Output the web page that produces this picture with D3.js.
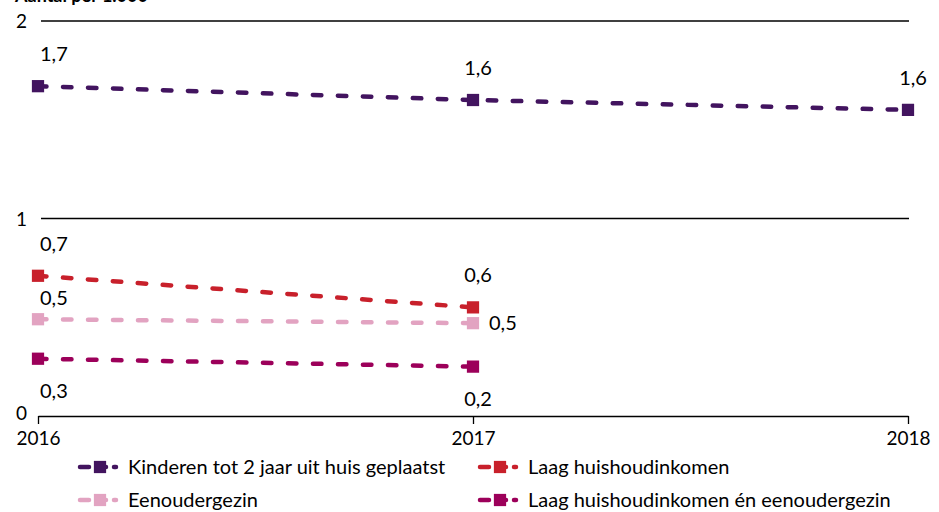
<!DOCTYPE html>
<html>
<head>
<meta charset="utf-8">
<script src="https://cdn.jsdelivr.net/npm/d3@7"></script>
<style>
  body { margin: 0; background: #fff; }
  svg { display: block; font-family: Lato, "Open Sans", sans-serif; }
</style>
</head>
<body>
<svg id="chart" width="939" height="512"></svg>
<script>
var years = [2016, 2017, 2018];
var yTicks = [0, 1, 2];

var seriesNames = [
  "Kinderen tot 2 jaar uit huis geplaatst",
  "Laag huishoudinkomen",
  "Eenoudergezin",
  "Laag huishoudinkomen én eenoudergezin"
];
var kinderen = [1.67, 1.60, 1.55];
var laagInkomen = [0.71, 0.55, null];
var eenouder = [0.49, 0.47, null];
var laagEnEenouder = [0.29, 0.25, null];

var kinderenLabels = ["1,7", "1,6", "1,6"];
var laagInkomenLabels = ["0,7", "0,6", null];
var eenouderLabels = ["0,5", "0,5", null];
var laagEnEenouderLabels = ["0,3", "0,2", null];

var colors = ["#42145f", "#c8202b", "#e2a3c1", "#9c005a"];
// where each point's label sits
var placement = [
  ["above", "above", "above"],
  ["above", "above", null],
  ["near", "right", null],
  ["below", "below", null]
];

var values = [kinderen, laagInkomen, eenouder, laagEnEenouder];
var labels = [kinderenLabels, laagInkomenLabels, eenouderLabels, laagEnEenouderLabels];

var svg = d3.select("#chart");

var x = d3.scaleLinear().domain([2016, 2018]).range([38, 908]);
var y = d3.scaleLinear().domain([0, 2]).range([416, 21]);

// title, cut at the top as in the original
svg.append("text")
    .attr("x", 15).attr("y", 2)
    .attr("font-size", 18).attr("font-weight", "bold")
    .text("Aantal per 1.000");

// gridlines at 1 and 2
svg.selectAll("line.grid")
    .data(yTicks.filter(function(d) { return d > 0; }))
  .enter().append("line")
    .attr("class", "grid")
    .attr("x1", 41).attr("x2", 909)
    .attr("y1", function(d) { return y(d); })
    .attr("y2", function(d) { return y(d); })
    .attr("stroke", "#000").attr("stroke-width", 1.3);

svg.selectAll("text.ytick")
    .data(yTicks)
  .enter().append("text")
    .attr("class", "ytick")
    .attr("x", 27).attr("y", function(d) { return y(d) + (d === 0 ? 4 : 7); })
    .attr("text-anchor", "end")
    .attr("font-size", 19)
    .text(function(d) { return d; });

// x axis
var xAxis = d3.axisBottom(x)
    .tickValues(years)
    .tickFormat(d3.format("d"))
    .tickSizeInner(8).tickSizeOuter(0).tickPadding(8);

var gx = svg.append("g")
    .attr("transform", "translate(0," + y(0) + ")")
    .call(xAxis);
gx.select(".domain").attr("stroke-width", 1.3);
gx.selectAll(".tick line").attr("stroke-width", 1.3);
gx.selectAll("text").attr("font-size", 19).attr("font-family", "Lato, sans-serif").attr("fill", "#000");

var line = d3.line()
    .defined(function(d) { return d.v != null; })
    .x(function(d) { return x(d.year); })
    .y(function(d) { return y(d.v); });

var marker = d3.symbol().type(d3.symbolSquare).size(150);

values.forEach(function(vals, s) {
  var pts = years.map(function(yr, i) {
    return { year: yr, v: vals[i], label: labels[s][i], pos: placement[s][i] };
  }).filter(function(d) { return d.v != null; });

  svg.append("path")
      .datum(pts)
      .attr("d", line)
      .attr("fill", "none")
      .attr("stroke", colors[s])
      .attr("stroke-width", 4.5)
      .attr("stroke-linecap", "round")
      .attr("stroke-dasharray", "8.5,16.5");

  svg.selectAll(null)
      .data(pts)
    .enter().append("path")
      .attr("transform", function(d) { return "translate(" + x(d.year) + "," + y(d.v) + ")"; })
      .attr("d", marker)
      .attr("fill", colors[s]);

  svg.selectAll(null)
      .data(pts)
    .enter().append("text")
      .attr("font-size", 20)
      .attr("text-anchor", function(d) { return d.pos === "right" || d.year === 2016 ? "start" : "middle"; })
      .attr("x", function(d) {
        if (d.pos === "right") return x(d.year) + 16;
        if (d.year === 2016) return x(d.year) + 2;
        return x(d.year) + 5;
      })
      .attr("y", function(d) {
        if (d.pos === "above") return y(d.v) - 25;
        if (d.pos === "near") return y(d.v) - 14;
        if (d.pos === "below") return y(d.v) + 39;
        return y(d.v) + 7;
      })
      .text(function(d) { return d.label; });
});

// legend
var legendPos = [[78, 467], [478, 467], [78, 500], [478, 500]];
var lg = svg.selectAll("g.legend")
    .data(seriesNames)
  .enter().append("g")
    .attr("class", "legend")
    .attr("transform", function(d, i) { return "translate(" + legendPos[i][0] + "," + legendPos[i][1] + ")"; });

lg.append("line")
    .attr("x1", 2).attr("x2", 38)
    .attr("stroke", function(d, i) { return colors[i]; })
    .attr("stroke-width", 4.5)
    .attr("stroke-linecap", "round")
    .attr("stroke-dasharray", "9,8");
lg.append("path")
    .attr("transform", "translate(22,0)")
    .attr("d", marker)
    .attr("fill", function(d, i) { return colors[i]; });
lg.append("text")
    .attr("x", 50).attr("y", 7)
    .attr("font-size", 20)
    .text(function(d) { return d; });
</script>
</body>
</html>
